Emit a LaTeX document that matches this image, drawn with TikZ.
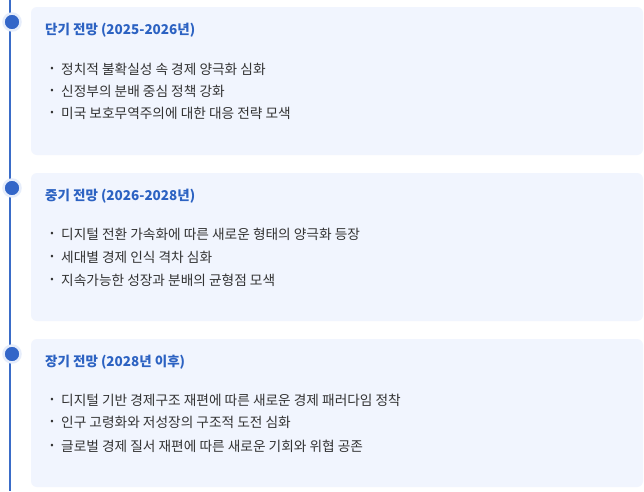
\documentclass[tikz,border=0pt]{standalone}
\usepackage{fontspec}
\newfontfamily\kr{Noto Sans CJK KR}
\definecolor{lineblue}{HTML}{3A6CC8}
\definecolor{dotblue}{HTML}{3366C8}
\definecolor{titleblue}{HTML}{2C62C2}
\definecolor{boxfill}{HTML}{F1F5FE}
\definecolor{halo}{HTML}{E6EDFB}
\definecolor{txt}{HTML}{333333}
\tikzset{
  card/.style={fill=boxfill,rounded corners=6pt},
  dot/.style={draw=halo,line width=2.5pt,fill=dotblue,shape=circle,minimum size=17pt,inner sep=0pt},
  head/.style={anchor=west,inner sep=0pt,text=titleblue,font=\kr\bfseries\fontsize{13.5}{16}\selectfont},
  item/.style={anchor=west,inner sep=0pt,text=txt,font=\kr\fontsize{13.7}{16}\selectfont},
  bulletmark/.style={inner sep=0pt,text=txt,font=\kr\fontsize{10}{12}\selectfont}
}
\begin{document}
\begin{tikzpicture}[x=1pt,y=-1pt]
  \useasboundingbox (0,0) rectangle (644,491);
  \fill[white] (0,0) rectangle (644,491);

  % cards
  \fill[card] (31,7) rectangle (643,155);
  \fill[card] (31,173) rectangle (643,321);
  \fill[card] (31,339) rectangle (643,487);

  % time line
  \coordinate (top) at (10,0);
  \coordinate (bot) at (10,491);
  \draw[lineblue,line width=1.2pt] (top) -- (bot);

  \path (12,22) node[dot] (d1) {};
  \path (12,188) node[dot] (d2) {};
  \path (12,354) node[dot] (d3) {};

  % short term
  \path (45,30) node[head] (h1) {단기 전망 (2025-2026년)};
  \path (52,69) node[bulletmark] {•};
  \path (61,69) node[item] (a1) {정치적 불확실성 속 경제 양극화 심화};
  \path (52,91) node[bulletmark] {•};
  \path (61,91) node[item] (a2) {신정부의 분배 중심 정책 강화};
  \path (52,113) node[bulletmark] {•};
  \path (61,113) node[item] (a3) {미국 보호무역주의에 대한 대응 전략 모색};

  % mid term
  \path (45,196) node[head] (h2) {중기 전망 (2026-2028년)};
  \path (52,234) node[bulletmark] {•};
  \path (61,234) node[item] (b1) {디지털 전환 가속화에 따른 새로운 형태의 양극화 등장};
  \path (52,257) node[bulletmark] {•};
  \path (61,257) node[item] (b2) {세대별 경제 인식 격차 심화};
  \path (52,280) node[bulletmark] {•};
  \path (61,280) node[item] (b3) {지속가능한 성장과 분배의 균형점 모색};

  % long term
  \path (45,362) node[head] (h3) {장기 전망 (2028년 이후)};
  \path (52,400) node[bulletmark] {•};
  \path (61,400) node[item] (c1) {디지털 기반 경제구조 재편에 따른 새로운 경제 패러다임 정착};
  \path (52,422) node[bulletmark] {•};
  \path (61,422) node[item] (c2) {인구 고령화와 저성장의 구조적 도전 심화};
  \path (52,446) node[bulletmark] {•};
  \path (61,446) node[item] (c3) {글로벌 경제 질서 재편에 따른 새로운 기회와 위협 공존};
\end{tikzpicture}
\end{document}
